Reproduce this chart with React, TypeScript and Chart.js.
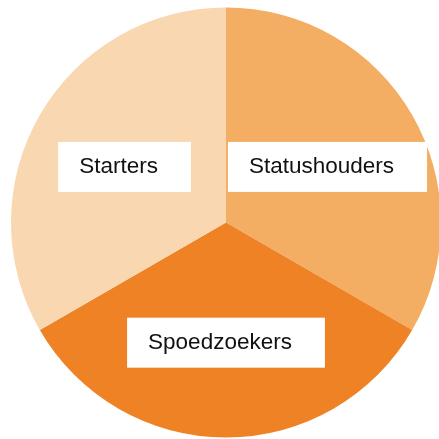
import React, { useEffect, useRef } from "react";
import { Chart, registerables } from "chart.js";

Chart.register(...registerables);

const categories = ["Statushouders", "Spoedzoekers", "Starters"];
const values = [1, 1, 1];
const colors = ["#F4AE64", "#EE8225", "#F9D7B0"];

const labelBoxes = {
  id: "labelBoxes",
  afterDatasetsDraw(chart: any) {
    const ctx = chart.ctx;
    const meta = chart.getDatasetMeta(0);
    ctx.save();
    ctx.font = '22.5px "Liberation Sans", Arial, sans-serif';
    ctx.textBaseline = "middle";
    ctx.textAlign = "left";
    meta.data.forEach((arc: any, i: number) => {
      const p = arc.getProps(["x", "y", "startAngle", "endAngle", "outerRadius"], true);
      const mid = (p.startAngle + p.endAngle) / 2;
      const d = p.outerRadius * 0.545;
      const cx = p.x + Math.cos(mid) * d;
      const cy = p.y + Math.sin(mid) * d + 3;
      const text = categories[i];
      const tw = ctx.measureText(text).width;
      const padL = 21;
      const padR = 33;
      const w = tw + padL + padR;
      const h = 50;
      const left = cx - w / 2;
      const top = cy - h / 2;
      ctx.fillStyle = "#FFFFFF";
      ctx.fillRect(left, top, w, h);
      ctx.fillStyle = "#111111";
      ctx.fillText(text, left + padL, cy);
    });
    ctx.restore();
  },
};

export default function App() {
  const ref = useRef<HTMLCanvasElement | null>(null);
  useEffect(() => {
    if (!ref.current) return;
    const chart = new Chart(ref.current, {
      type: "pie",
      data: {
        labels: categories,
        datasets: [
          {
            data: values,
            backgroundColor: colors,
            borderWidth: 0,
          },
        ],
      },
      options: {
        responsive: false,
        animation: false,
        layout: { padding: { left: 11, right: 11, top: 7.5, bottom: 7.5 } },
        plugins: {
          legend: { display: false },
          tooltip: { enabled: false },
        },
      },
      plugins: [labelBoxes],
    });
    return () => chart.destroy();
  }, []);
  return (
    <div
      style={{
        position: "fixed",
        left: 0,
        top: 0,
        width: 439,
        height: 439,
        overflow: "hidden",
        background: "#fff",
      }}
    >
      <canvas ref={ref} width={452} height={445} style={{ display: "block" }} />
    </div>
  );
}
